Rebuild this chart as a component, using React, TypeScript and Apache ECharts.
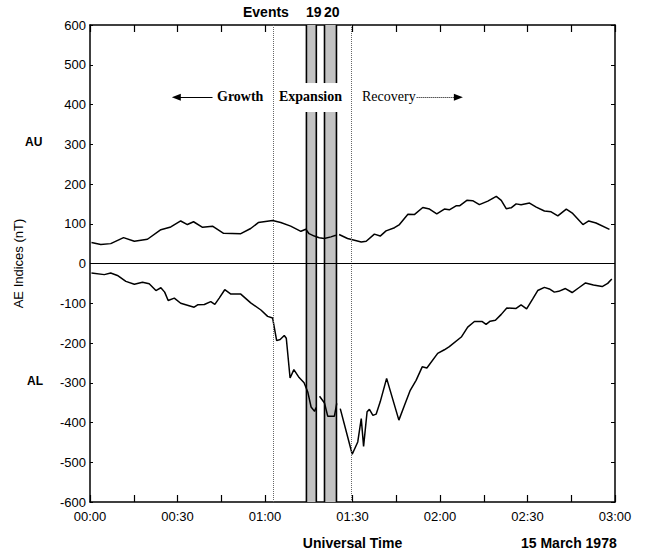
import React, { useEffect, useRef } from "react";
import * as echarts from "echarts";

// Time in minutes after 00:00 UT
const AU_T = [0.5, 3.7, 7.1, 11.5, 15.2, 19.7, 24.3, 27.7, 31.1, 33.4, 35.5, 38.6, 42, 45.8, 51.7, 55.1, 57.7, 62.6, 65.4, 68.8, 72.3, 74, 75.1, 76.9, 78.6, 80.3, 82.6, 84.3, 85, 85.4, 88.3, 91, 93, 94.7, 97.5, 99.5, 101.5, 104.4, 106.1, 109, 111.2, 114.1, 116.4, 118.9, 121.5, 123.2, 125.5, 126.7, 129.2, 131.2, 133.5, 136.4, 139.3, 141, 142.7, 144.4, 146.1, 147.8, 150.7, 153, 155.8, 158.1, 160.4, 163.3, 165.5, 169, 171, 173.5, 178.1];
const AU_V = [53, 48, 50, 65, 56, 61, 85, 92, 107, 98, 105, 91, 94, 76, 75, 88, 103, 108, 103, 94, 81, 86, 75, 69, 65, 63, 67, 71, null, 73, 63, 58, 54, 56, 74, 69, 82, 90, 98, 124, 123, 141, 137, 125, 137, 135, 145, 145, 159, 158, 148, 157, 169, 159, 138, 140, 150, 148, 152, 142, 132, 130, 120, 137, 126, 98, 107, 102, 86];

const AL_T = [0.5, 4.9, 7.1, 9.4, 12.3, 15.2, 18, 20.3, 22.6, 24.3, 25.6, 26.8, 28.9, 31.1, 35.7, 36.9, 39.2, 41.4, 42.8, 44.3, 46.2, 48.3, 51.7, 55.1, 58.6, 60.9, 62.6, 64, 65.2, 66.6, 67.3, 68.6, 69.9, 71.7, 73.4, 74.7, 75.8, 77, 77.5, 78.1, 78.7, 80.4, 81.5, 83.8, 84.6, 85.2, 85.8, 89.9, 91.8, 93, 93.8, 95, 95.8, 97, 98.1, 99.5, 101.7, 105.9, 107.8, 109.8, 111.8, 113.9, 115.5, 119.2, 121.5, 123.2, 127.3, 129.5, 131.8, 134.5, 135.8, 137.2, 139, 141, 142.9, 146.1, 147.8, 149.7, 151.8, 153.5, 155.8, 157.5, 159.2, 160.7, 163, 165.3, 167.6, 169.9, 172.6, 175.6, 177.5, 178.9];
const AL_V = [-24, -28, -24, -30, -45, -52, -47, -51, -68, -61, -72, -93, -87, -100, -110, -104, -103, -96, -103, -87, -66, -77, -77, -99, -117, -133, -137, -194, -191, -181, -188, -288, -267, -287, -300, -324, -361, -372, -362, null, -334, -351, -384, -384, -352, null, -365, -480, -449, -390, -460, -373, -367, -382, -379, -348, -289, -394, -357, -319, -294, -260, -263, -226, -217, -209, -185, -160, -146, -146, -153, -145, -143, -128, -112, -113, -104, -114, -89, -68, -60, -64, -72, -70, -63, -73, -61, -49, -54, -58, -50, -39];

// Event bands (minutes)
const EVENT_19 = [74.2, 77.6];
const EVENT_20 = [80.4, 84.5];
// Phase boundaries (dotted lines), minutes
const PHASE_LINES = [62.7, 89.5];
// Value range left blank behind the phase labels
const LABEL_GAP = [381, 454];

const X_MIN = 0;
const X_MAX = 180;
const X_STEP = 15;
const Y_MIN = -600;
const Y_MAX = 600;
const Y_STEP = 100;

function fmtTime(v: number): string {
  if (v % 30 !== 0) return "";
  const h = Math.floor(v / 60);
  const m = v % 60;
  return `${String(h).padStart(2, "0")}:${String(m).padStart(2, "0")}`;
}

const SANS = "Liberation Sans, Arial, sans-serif";
const SERIF = "Liberation Serif, Times New Roman, serif";

export default function App() {
  const ref = useRef<HTMLDivElement>(null);
  useEffect(() => {
    if (!ref.current) return;
    const chart = echarts.init(ref.current, null, { renderer: "svg" });
    const au = AU_T.map((t, i) => [t, AU_V[i]]);
    const al = AL_T.map((t, i) => [t, AL_V[i]]);
    const axisLine = { show: true, onZero: false, lineStyle: { color: "#000", width: 1.5 } };
    // band pieces: [x0, x1, yLow, yHigh]
    const bandPieces: number[][] = [];
    [EVENT_19, EVENT_20].forEach((r) => {
      bandPieces.push([r[0], r[1], Y_MIN, LABEL_GAP[0]]);
      bandPieces.push([r[0], r[1], LABEL_GAP[1], Y_MAX]);
    });
    chart.setOption({
      animation: false,
      backgroundColor: "#fff",
      textStyle: { fontFamily: SANS },
      grid: { left: 90, right: 32, top: 25, bottom: 49, containLabel: false, outerBoundsMode: "none" },
      xAxis: [
        {
          type: "value",
          min: X_MIN,
          max: X_MAX,
          interval: X_STEP,
          position: "bottom",
          axisLine,
          axisTick: { show: true, inside: true, length: 7, lineStyle: { color: "#000", width: 1.2 } },
          axisLabel: { formatter: fmtTime, color: "#000", fontSize: 13, margin: 8, fontFamily: SANS, showMaxLabel: true, showMinLabel: true },
          splitLine: { show: false },
          name: "Universal Time",
          nameLocation: "middle",
          nameGap: 34,
          nameTextStyle: { color: "#000", fontWeight: "bold", fontSize: 14, fontFamily: SANS },
        },
        {
          type: "value",
          min: X_MIN,
          max: X_MAX,
          interval: X_STEP,
          position: "top",
          axisLine,
          axisTick: { show: true, inside: true, length: 7, lineStyle: { color: "#000", width: 1.2 } },
          axisLabel: { show: false },
          splitLine: { show: false },
        },
      ],
      yAxis: [
        {
          type: "value",
          min: Y_MIN,
          max: Y_MAX,
          interval: Y_STEP,
          position: "left",
          axisLine,
          axisTick: { show: true, inside: true, length: 3, lineStyle: { color: "#000" } },
          axisLabel: { color: "#000", fontSize: 13, margin: 4, fontFamily: SANS },
          splitLine: { show: false },
          name: "AE Indices (nT)",
          nameLocation: "middle",
          nameGap: 65,
          nameTextStyle: { color: "#000", fontSize: 13, fontFamily: SANS },
        },
        {
          type: "value",
          min: Y_MIN,
          max: Y_MAX,
          interval: Y_STEP,
          position: "right",
          axisLine,
          axisTick: { show: true, inside: true, length: 4, lineStyle: { color: "#000" } },
          axisLabel: { show: false },
          splitLine: { show: false },
        },
      ],
      series: [
        {
          name: "events",
          type: "custom",
          z: 1,
          silent: true,
          clip: true,
          encode: { x: [0, 1], y: [2, 3] },
          data: bandPieces,
          renderItem: (_params: any, api: any) => {
            const x0 = api.value(0);
            const x1 = api.value(1);
            const y0 = api.value(2);
            const y1 = api.value(3);
            const pTL = api.coord([x0, y1]);
            const pBR = api.coord([x1, y0]);
            const w = pBR[0] - pTL[0];
            const h = pBR[1] - pTL[1];
            return {
              type: "group",
              children: [
                { type: "rect", shape: { x: pTL[0], y: pTL[1], width: w, height: h }, style: { fill: "#c2c2c2" } },
                { type: "line", shape: { x1: pTL[0], y1: pTL[1], x2: pTL[0], y2: pBR[1] }, style: { stroke: "#000", lineWidth: 1.6 } },
                { type: "line", shape: { x1: pBR[0], y1: pTL[1], x2: pBR[0], y2: pBR[1] }, style: { stroke: "#000", lineWidth: 1.6 } },
              ],
            };
          },
        },
        {
          name: "guides",
          type: "line",
          data: [],
          z: 2,
          silent: true,
          markLine: {
            silent: true,
            symbol: "none",
            label: { show: false },
            lineStyle: { color: "#000", type: "solid", width: 1 },
            data: [
              ...PHASE_LINES.map((x) => ({ xAxis: x, lineStyle: { color: "#666", type: "dotted", width: 1 } })),
              { yAxis: 0, lineStyle: { color: "#000", width: 1, type: "solid" } },
            ],
          },
        },
        {
          name: "arrows",
          type: "line",
          data: [],
          z: 2,
          silent: true,
          markLine: {
            silent: true,
            label: { show: false },
            data: [
              [
                { coord: [42, 418], symbol: "none", lineStyle: { color: "#000", width: 1.2, type: "solid" } },
                { coord: [29.6, 418], symbol: "triangle", symbolSize: [7, 9], symbolRotate: 90 },
              ],
              [
                { coord: [112, 418], symbol: "none", lineStyle: { color: "#000", width: 1, type: "dotted" } },
                { coord: [126.3, 418], symbol: "triangle", symbolSize: [7, 9] },
              ],
            ],
          },
        },
        {
          name: "AU",
          type: "line",
          data: au,
          z: 3,
          showSymbol: false,
          symbol: "none",
          connectNulls: false,
          lineStyle: { color: "#000", width: 1.5 },
        },
        {
          name: "AL",
          type: "line",
          data: al,
          z: 3,
          showSymbol: false,
          symbol: "none",
          connectNulls: false,
          lineStyle: { color: "#000", width: 1.5 },
        },
      ],
      graphic: [
        { type: "text", left: 243, top: 5, z: 10, style: { text: "Events", font: `bold 14px ${SANS}`, fill: "#000" } },
        { type: "text", left: 306, top: 5, z: 10, style: { text: "19", font: `bold 14px ${SANS}`, fill: "#000" } },
        { type: "text", left: 324, top: 5, z: 10, style: { text: "20", font: `bold 14px ${SANS}`, fill: "#000" } },
        { type: "text", left: 217, top: 89, z: 10, style: { text: "Growth", font: `bold 14px ${SERIF}`, fill: "#000" } },
        { type: "text", left: 279, top: 89, z: 10, style: { text: "Expansion", font: `bold 14px ${SERIF}`, fill: "#000" } },
        { type: "text", left: 362, top: 89, z: 10, style: { text: "Recovery", font: `14px ${SERIF}`, fill: "#000" } },
        { type: "text", left: 25, top: 136, z: 10, style: { text: "AU", font: `bold 12px ${SANS}`, fill: "#000" } },
        { type: "text", left: 27, top: 375, z: 10, style: { text: "AL", font: `bold 12px ${SANS}`, fill: "#000" } },
        { type: "text", left: 521, top: 536, z: 10, style: { text: "15 March 1978", font: `bold 14px ${SANS}`, fill: "#000" } },
      ],
    });
    return () => chart.dispose();
  }, []);
  return (
    <div
      ref={ref}
      style={{ position: "fixed", left: 0, top: 0, width: 647, height: 551, background: "#fff" }}
    />
  );
}
